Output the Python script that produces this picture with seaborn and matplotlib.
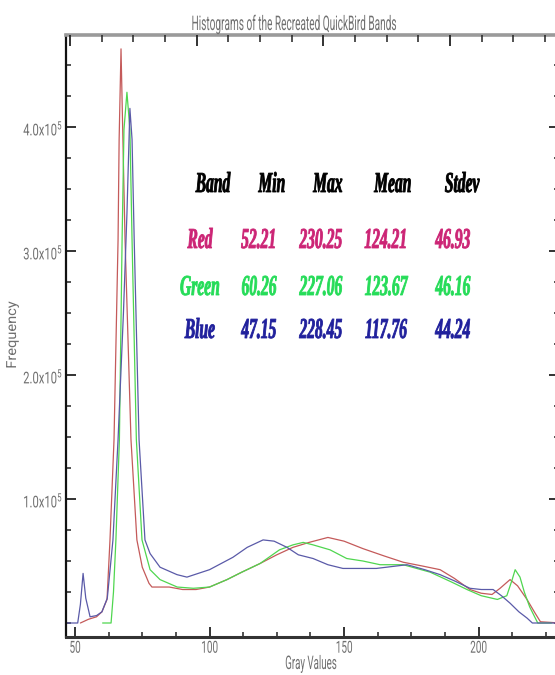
import numpy as np
import pandas as pd
import matplotlib
matplotlib.use("Agg")
import matplotlib.pyplot as plt
import seaborn as sns
from matplotlib.patheffects import AbstractPathEffect
from matplotlib.transforms import Affine2D, Bbox
from matplotlib.text import Text
from matplotlib.ticker import MultipleLocator

# ---------------- data ----------------
bands = ["Red", "Green", "Blue"]

red_x = [52, 55, 58, 60, 61.9, 63, 64.5, 66, 66.4, 67.1, 67.8, 68.6, 70.8, 73, 75,
         77.5, 78.6, 85, 90, 95, 100, 106.5, 112, 118.8, 125, 131, 137, 144, 150, 157,
         165, 172, 179, 185.7, 191, 196.8, 201, 205, 208, 211.7, 214.5, 218, 221, 223, 230.25]
red_y = [0, 3000, 5000, 9000, 19000, 67000, 148000, 309000, 390000, 463000, 390000, 309000, 148000, 67000, 45000,
         32000, 29000, 29000, 27000, 27000, 29000, 35000, 41000, 48000, 55000, 61000, 65000, 69000, 66000, 60000,
         54000, 49000, 46000, 43000, 36000, 27000, 24000, 23000, 28000, 35000, 30000, 19000, 8000, 1000, 0]

green_x = [60.26, 63.4, 64.3, 65.2, 66.5, 67.5, 68.2, 69.3, 70.4, 71.2, 72.8, 74.9, 77.9, 81.6, 88,
           94, 100, 106.5, 112, 118.8, 126, 131, 134.8, 138.5, 144.8, 151, 157, 163.4, 172, 182,
           190, 195.7, 201, 207, 210.5, 212.5, 213.6, 215.4, 217, 219, 222, 227.06]
green_y = [0, 0, 25000, 67000, 148000, 309000, 398000, 428000, 398000, 309000, 148000, 67000, 43000, 35000, 29000,
           28000, 29000, 35000, 41000, 48000, 59000, 63000, 65000, 63000, 59000, 52000, 50000, 47000, 47000, 41000,
           33000, 27000, 22000, 19000, 22000, 35000, 43000, 37000, 25000, 13000, 0, 0]

blue_x = [47.15, 51, 52, 53, 54, 55.6, 58, 60, 62, 64.1, 66, 68, 69.3, 70.4, 71.2,
          72, 73.8, 76, 77.9, 81.6, 87.9, 91.6, 100, 108.7, 114, 119.9, 124, 128.8, 133, 138.5,
          144, 149.6, 162, 173.4, 180, 185.7, 191, 196.8, 201, 205.4, 208.5, 211.7, 215, 218, 220, 228.45]
blue_y = [0, 0, 15000, 40000, 20000, 5000, 6000, 9000, 20000, 67000, 148000, 250000, 330000, 415000, 390000,
          309000, 148000, 67000, 56000, 45000, 39000, 37000, 43000, 53000, 61000, 67000, 66000, 61000, 55000, 52000,
          47000, 44000, 44000, 47000, 43000, 39000, 34000, 28000, 27000, 27000, 22000, 16000, 9000, 4000, 0, 0]

x_ticks = [50, 100, 150, 200]
y_ticks = [1e5, 2e5, 3e5, 4e5]
y_tick_labels = ["1.0x10$^5$", "2.0x10$^5$", "3.0x10$^5$", "4.0x10$^5$"]

title = "Histograms of the Recreated QuickBird Bands"
x_label = "Gray Values"
y_label = "Frequency"

table_header = ["Band", "Min", "Max", "Mean", "Stdev"]
band_min = ["52.21", "60.26", "47.15"]
band_max = ["230.25", "227.06", "228.45"]
band_mean = ["124.21", "123.67", "117.76"]
band_std = ["46.93", "46.16", "44.24"]

# ---------------- style ----------------
line_colors = {"Red": "#c45a5a", "Green": "#4fd64f", "Blue": "#5a5aa8"}
text_colors = {"Red": "#cc2475", "Green": "#25dc58", "Blue": "#20209c"}
GRAY = "#707070"

sns.set_theme(style="white")
plt.rcParams["font.family"] = ["Roboto", "DejaVu Sans"]
plt.rcParams["mathtext.default"] = "regular"


class Squeeze(AbstractPathEffect):
    """Rescale glyphs (narrow, tall plotter-style lettering), optional outline."""

    def __init__(self, sx=1.0, sy=1.0, anchor="center", yanchor="baseline", stroke=0.0):
        super().__init__()
        self.sx = sx
        self.sy = sy
        self.anchor = anchor
        self.yanchor = yanchor
        self.stroke = stroke

    def draw_path(self, renderer, gc, tpath, affine, rgbFace=None):
        ext = tpath.get_extents()
        if self.anchor == "left":
            cx = ext.x0
        elif self.anchor == "right":
            cx = ext.x1
        else:
            cx = 0.5 * (ext.x0 + ext.x1)
        cy = 0.0 if self.yanchor == "baseline" else 0.5 * (ext.y0 + ext.y1)
        pre = (Affine2D().translate(-cx, -cy).scale(self.sx, self.sy)
               .translate(cx, cy))
        if self.stroke > 0 and rgbFace is not None:
            gc0 = renderer.new_gc()
            gc0.copy_properties(gc)
            gc0.set_linewidth(self.stroke)
            gc0.set_foreground(rgbFace)
            gc0.set_joinstyle("round")
            renderer.draw_path(gc0, tpath, pre + affine, rgbFace)
            gc0.restore()
        else:
            renderer.draw_path(gc, tpath, pre + affine, rgbFace)


class NarrowText(Text):
    """Text drawn horizontally compressed; its extent reports the compressed ink."""

    def __init__(self, x, y, s, sx=1.0, sy=1.0, yanchor="baseline", stroke=0.0, **kw):
        super().__init__(x, y, s, **kw)
        self._sx = sx
        self.set_path_effects([Squeeze(sx, sy, "center", yanchor, stroke)])

    def get_window_extent(self, renderer=None, dpi=None):
        bb = super().get_window_extent(renderer, dpi)
        if bb.width == 0 or bb.height == 0:
            return bb
        rot = self.get_rotation() % 180
        if abs(rot - 90) < 1:
            cy = 0.5 * (bb.y0 + bb.y1)
            h = bb.height * self._sx
            return Bbox.from_extents(bb.x0, cy - h / 2, bb.x1, cy + h / 2)
        cx = 0.5 * (bb.x0 + bb.x1)
        w = bb.width * self._sx
        return Bbox.from_extents(cx - w / 2, bb.y0, cx + w / 2, bb.y1)


W, H = 555, 675

df = pd.concat([
    pd.DataFrame({"gray": red_x, "freq": red_y, "band": "Red"}),
    pd.DataFrame({"gray": green_x, "freq": green_y, "band": "Green"}),
    pd.DataFrame({"gray": blue_x, "freq": blue_y, "band": "Blue"}),
], ignore_index=True)

fig = plt.figure(figsize=(W / 100, H / 100), dpi=100)
fig.patch.set_facecolor("white")
ax = fig.add_axes([66 / W, 38 / H, 493 / W, 602 / H])


def ftext(x, y, s, sx=1.0, sy=1.0, yanchor="baseline", stroke=0.0, **kw):
    t = NarrowText(x / W, 1 - y / H, s, sx=sx, sy=sy, yanchor=yanchor, stroke=stroke,
                   transform=fig.transFigure, **kw)
    fig.add_artist(t)
    return t


sns.lineplot(data=df, x="gray", y="freq", hue="band", hue_order=bands,
             palette=line_colors, estimator=None, sort=True, linewidth=0.9,
             legend=False, ax=ax)

ax.set_xlim(46.65, 229.9)
ax.set_ylim(-11290, 474190)
ax.set_xlabel("")
ax.set_ylabel("")
ax.set_xticks(x_ticks)
ax.set_xticklabels([str(v) for v in x_ticks])
ax.xaxis.set_minor_locator(MultipleLocator(12.5))
ax.set_yticks(y_ticks)
ax.set_yticklabels(y_tick_labels)
ax.yaxis.set_minor_locator(MultipleLocator(25000))

ax.tick_params(which="both", direction="in", left=True, right=True, bottom=True, top=False,
               color="#222222")
ax.tick_params(which="major", length=7, width=1.3)
ax.tick_params(which="minor", length=3.6, width=1.1)
ax.tick_params(axis="x", labelsize=10, labelcolor=GRAY, pad=2.7)
ax.tick_params(axis="y", labelsize=9, labelcolor=GRAY, pad=2)

for side, col, lw in [("left", "#111111", 1.6), ("bottom", "#333333", 2.2),
                      ("top", "#9a9a9a", 2.6), ("right", "#9a9a9a", 2.6)]:
    ax.spines[side].set_visible(True)
    ax.spines[side].set_color(col)
    ax.spines[side].set_linewidth(lw)

# top axis carries its own tick spacing in the original
ax_top = ax.twiny()
ax_top.set_xlim(48.42, 242.97)
ax_top.set_xticks(x_ticks)
ax_top.xaxis.set_minor_locator(MultipleLocator(12.5))
ax_top.tick_params(axis="x", which="both", direction="in", top=True, bottom=False,
                   labeltop=False, labelbottom=False, color="#222222")
ax_top.tick_params(axis="x", which="major", length=8, width=1.3)
ax_top.tick_params(axis="x", which="minor", length=5, width=1.1)
for s in ax_top.spines.values():
    s.set_visible(False)

# titles / labels
ftext(293, 30, title, sx=0.5, ha="center", va="baseline", fontsize=14.5, color=GRAY)
ftext(311, 669, x_label, sx=0.7, sy=1.35, ha="center", va="baseline", fontsize=10,
      color=GRAY)
ftext(12, 335, y_label, sx=1.05, sy=1.0, yanchor="center", ha="center", va="center",
      rotation=90, fontsize=10, color=GRAY)

# statistics table
serif = dict(family=["Liberation Serif", "DejaVu Serif"], weight="bold", style="italic")
header_x = [213, 272, 328, 393, 462]
value_x = [200, 259, 321, 386, 453]
row_y = [248, 295, 338]
TSIZE = 16
TSX = 0.7
TSY = 1.3
for hx, htxt in zip(header_x, table_header):
    ftext(hx, 192, htxt, sx=TSX, sy=TSY, stroke=0.6, ha="center", va="baseline",
          fontsize=TSIZE, color="black", **serif)
for i, b in enumerate(bands):
    row = [b, band_min[i], band_max[i], band_mean[i], band_std[i]]
    for vx, vtxt in zip(value_x, row):
        ftext(vx, row_y[i], vtxt, sx=TSX, sy=TSY, stroke=0.6, ha="center", va="baseline",
              fontsize=TSIZE, color=text_colors[b], **serif)

fig.canvas.draw()
for lbl in ax.get_xticklabels():
    lbl.set_path_effects([Squeeze(0.72, 1.2, "center", "center")])
for lbl in ax.get_yticklabels():
    lbl.set_path_effects([Squeeze(0.9, 1.3, "right", "center")])

fig.savefig("out.png", dpi=100, facecolor="white")
